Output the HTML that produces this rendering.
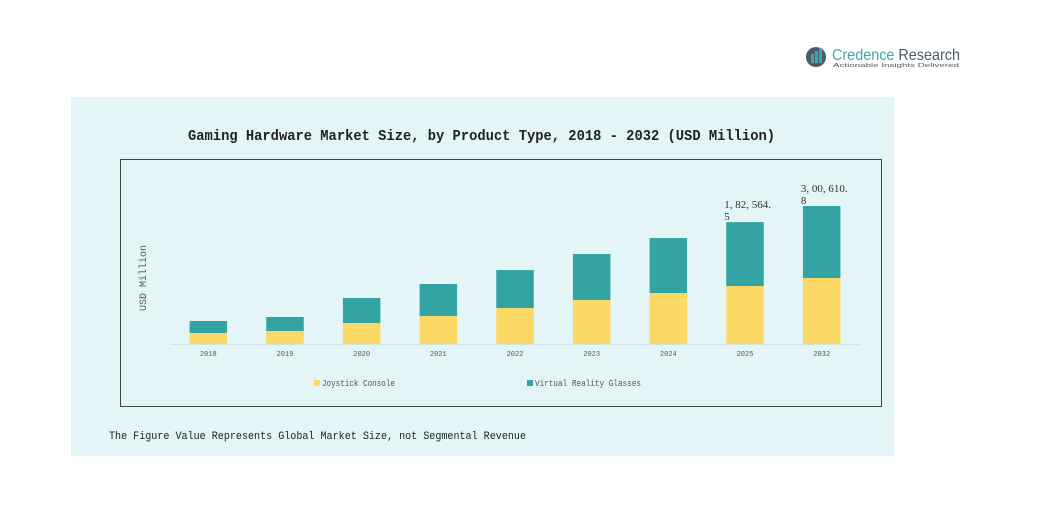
<!DOCTYPE html>
<html><head><meta charset="utf-8"><style>
body{margin:0;width:1051px;height:500px;background:#fff;font-family:"Liberation Mono","DejaVu Sans Mono",monospace;overflow:hidden}
</style></head><body>
<svg width="1051" height="500" xmlns="http://www.w3.org/2000/svg">
<g>
<circle cx="816" cy="57" r="10" fill="#4a5a68"/>
<rect x="811" y="54" width="3" height="9" fill="#3aa8b0"/><rect x="815" y="51" width="3" height="12" fill="#3aa8b0"/><rect x="819" y="48" width="3" height="15" fill="#3aa8b0"/>
<text x="832" y="60" font-family="Liberation Sans, sans-serif" font-size="16" fill="#4a5a68" textLength="128" lengthAdjust="spacingAndGlyphs"><tspan fill="#3aa8b0">Credence</tspan> Research</text>
<text x="833" y="67" font-family="Liberation Sans, sans-serif" font-size="5" fill="#4a5a68" textLength="126" lengthAdjust="spacingAndGlyphs">Actionable Insights Delivered</text>
</g>
<rect x="71" y="97" width="823" height="359" fill="#e3f5f6"/>
<text x="188" y="140" font-size="15" font-weight="bold" fill="#222" textLength="587" lengthAdjust="spacingAndGlyphs">Gaming Hardware Market Size, by Product Type, 2018 - 2032 (USD Million)</text>
<rect x="120.5" y="159.5" width="761" height="247" fill="none" stroke="#444"/>
<text transform="translate(146,278) rotate(-90)" text-anchor="middle" font-size="10" fill="#555">USD Million</text>
<line x1="170" y1="344.5" x2="860" y2="344.5" stroke="#cfe3e5"/>
<g id="bars"></g>
<g>
<rect x="314" y="380" width="6" height="6" fill="#fcd864"/>
<text x="322" y="386" font-size="9" fill="#555" textLength="73" lengthAdjust="spacingAndGlyphs">Joystick Console</text>
<rect x="527" y="380" width="6" height="6" fill="#33a3a3"/>
<text x="535" y="386" font-size="9" fill="#555" textLength="106" lengthAdjust="spacingAndGlyphs">Virtual Reality Glasses</text>
</g>
<text x="109" y="439" font-size="11" fill="#222" textLength="417" lengthAdjust="spacingAndGlyphs">The Figure Value Represents Global Market Size, not Segmental Revenue</text>
</svg>
<script>
const categories=["2018","2019","2020","2021","2022","2023","2024","2025","2032"];
const joystick=[24000,28300,45700,61000,78400,95800,111000,126300,143800];
const vrGlasses=[26100,30500,54500,69700,82700,100200,119800,139200,156800];
const labels=["","","","","","","","1, 82, 564.|5","3, 00, 610.|8"];
const NS="http://www.w3.org/2000/svg";
const g=document.getElementById('bars');
const x0=170,x1=860,base=344,pxPer=138/300610.8;
const step=(x1-x0)/categories.length,bw=37.5;
const xS=i=>x0+step*(i+0.5);
const yS=v=>base-v*pxPer;
function mk(t,a){const e=document.createElementNS(NS,t);for(const k in a)e.setAttribute(k,a[k]);g.appendChild(e);return e;}
categories.forEach((c,i)=>{
  const cx=xS(i),yj=yS(joystick[i]),yt=yS(joystick[i]+vrGlasses[i]);
  const r1=mk('rect',{x:cx-bw/2,y:yj,width:bw,height:base-yj,fill:'#fcd864'});
  
  
  const r2=mk('rect',{x:cx-bw/2,y:yt,width:bw,height:yj-yt,fill:'#33a3a3'});
  
  
  const t=mk('text',{x:cx,y:356,'text-anchor':'middle','font-size':'7',fill:'#555'});
  t.textContent=c;
  
  
  if(labels[i]){
    const parts=labels[i].split('|');
    parts.forEach((p,k)=>{
      const l=mk('text',{x:cx-bw/2-2,y:yt-14+k*12,'font-size':'11','font-family':'Liberation Serif, serif',fill:'#333'});
      l.textContent=p;
      
      
    });
  }
});
</script>
</body></html>
